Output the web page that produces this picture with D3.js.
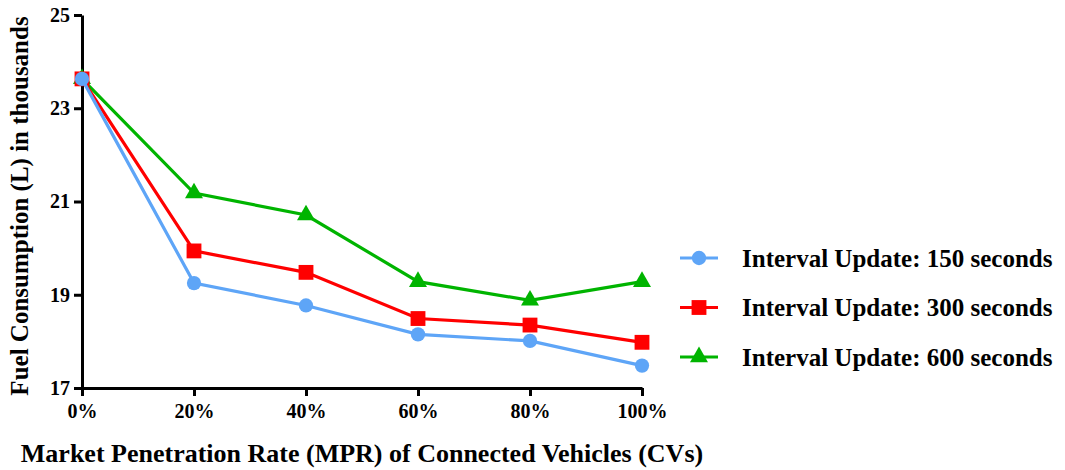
<!DOCTYPE html>
<html>
<head>
<meta charset="utf-8">
<script src="https://cdn.jsdelivr.net/npm/d3@7"></script>
<style>
  body { margin: 0; background: #fff; }
  svg text { font-family: "Liberation Serif", "Times New Roman", serif; font-weight: bold; fill: #000; }
</style>
</head>
<body>
<div id="chart"></div>
<script>
const categories = ['0%', '20%', '40%', '60%', '80%', '100%'];
const yTicks = [17, 19, 21, 23, 25];
const seriesNames = ['Interval Update: 150 seconds', 'Interval Update: 300 seconds', 'Interval Update: 600 seconds'];
const interval150 = [23.63, 19.25, 18.77, 18.15, 18.01, 17.48];
const interval300 = [23.63, 19.94, 19.48, 18.49, 18.35, 17.98];
const interval600 = [23.63, 21.18, 20.71, 19.28, 18.88, 19.28];

const colors = ['#5EA5F7', '#FF0000', '#00B400'];
const symbols = [d3.symbolCircle, d3.symbolSquare, d3.symbolTriangle];
const symbolSizes = [160, 220, 140];

const width = 1065, height = 470;
const margin = {left: 82, right: 423, top: 15, bottom: 82};

const svg = d3.select('#chart').append('svg')
  .attr('width', width)
  .attr('height', height);

// x is categorical with points on the ends of the axis
const x = d3.scalePoint()
  .domain(categories)
  .range([margin.left, width - margin.right]);

const y = d3.scaleLinear()
  .domain([17, 25])
  .range([height - margin.bottom, margin.top]);

const xAxis = svg.append('g')
  .attr('transform', 'translate(0,' + (height - margin.bottom) + ')')
  .call(d3.axisBottom(x).tickSizeInner(8).tickSizeOuter(0).tickPadding(8));

const yAxis = svg.append('g')
  .attr('transform', 'translate(' + margin.left + ',0)')
  .call(d3.axisLeft(y).tickValues(yTicks).tickSizeInner(8).tickSizeOuter(0).tickPadding(4));

[xAxis, yAxis].forEach(ax => {
  ax.attr('font-family', null).attr('font-size', null);
  ax.select('.domain').attr('stroke', '#000').attr('stroke-width', 3);
  ax.selectAll('.tick line').attr('stroke', '#000').attr('stroke-width', 3);
  ax.selectAll('.tick text').style('font-size', '20px');
});

svg.append('text')
  .attr('x', 362)
  .attr('y', 462)
  .attr('text-anchor', 'middle')
  .style('font-size', '26px')
  .text('Market Penetration Rate (MPR) of Connected Vehicles (CVs)');

svg.append('text')
  .attr('transform', 'translate(28,' + 206 + ') rotate(-90)')
  .attr('text-anchor', 'middle')
  .style('font-size', '25px')
  .text('Fuel Consumption (L) in thousands');

const allSeries = [interval150, interval300, interval600];

const line = d3.line()
  .x((d, i) => x(categories[i]))
  .y(d => y(d));

// draw green first so blue sits on top like the original
[2, 1, 0].forEach(s => {
  const g = svg.append('g');
  g.append('path')
    .datum(allSeries[s])
    .attr('fill', 'none')
    .attr('stroke', colors[s])
    .attr('stroke-width', 3.2)
    .attr('d', line);

  g.selectAll('path.pt')
    .data(allSeries[s])
    .enter().append('path')
    .attr('class', 'pt')
    .attr('transform', (d, i) => 'translate(' + x(categories[i]) + ',' + y(d) + ')')
    .attr('d', d3.symbol().type(symbols[s]).size(symbolSizes[s]))
    .attr('fill', colors[s]);
});

// legend
const legend = svg.append('g');
const rows = legend.selectAll('g')
  .data(seriesNames)
  .enter().append('g')
  .attr('transform', (d, i) => 'translate(680,' + (258 + i * 49.5) + ')');

rows.append('line')
  .attr('x1', 0).attr('x2', 38)
  .attr('stroke', (d, i) => colors[i])
  .attr('stroke-width', 3.2);

rows.append('path')
  .attr('transform', 'translate(19,0)')
  .attr('d', (d, i) => d3.symbol().type(symbols[i]).size(symbolSizes[i])())
  .attr('fill', (d, i) => colors[i]);

rows.append('text')
  .attr('x', 62)
  .attr('dy', '0.35em')
  .style('font-size', '25px')
  .text(d => d);
</script>
</body>
</html>
